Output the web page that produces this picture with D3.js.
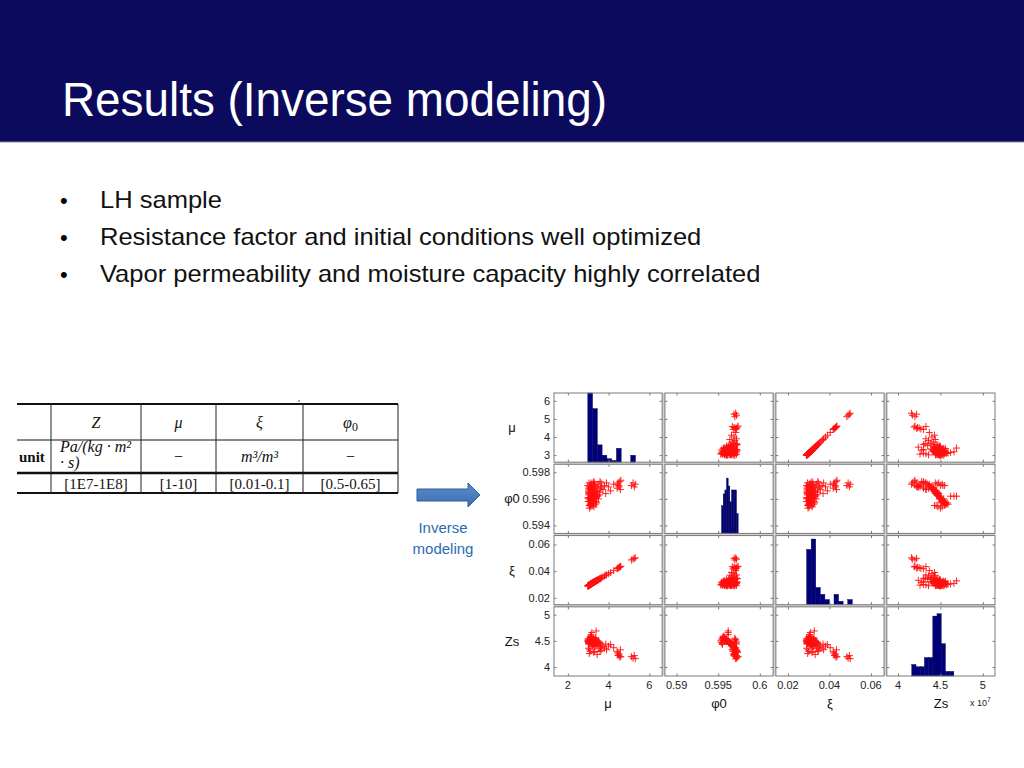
<!DOCTYPE html>
<html>
<head>
  <meta charset="UTF-8">
  <style>
body{
    margin: 0;
    background: #fff;
}
svg{
    display: block;
    font-family: "Liberation Sans", Arial, sans-serif;
}
  </style>
</head>
<body>
<svg></svg>

<script src="https://d3js.org/d3.v7.min.js"></script>

<script>

let width = 1024, height = 768;

// ---- slide text
const title = "Results (Inverse modeling)";
const bullets = [
    "LH sample",
    "Resistance factor and initial conditions well optimized",
    "Vapor permeability and moisture capacity highly correlated"
];

// ---- parameter table
const tableHead = ["Z", "μ", "ξ", "φ"];
const tableUnits = ["Pa/(kg · m²", "−", "m³/m³", "−"];
const tableRanges = ["[1E7-1E8]", "[1-10]", "[0.01-0.1]", "[0.5-0.65]"];

// ---- scatter matrix data (one entry per LH sample)
const varNames = ["μ", "φ0", "ξ", "Zs"];

const mu = [3.00,3.02,3.05,3.01,3.08,3.12,3.15,3.03,3.18,3.06,3.10,2.99,3.14,3.20,3.04,3.09,3.11,3.17,3.02,3.13,
    3.07,3.19,3.00,3.16,3.05,3.21,3.08,3.12,3.03,3.18,3.10,3.01,3.14,3.06,3.20,3.09,3.15,2.98,3.11,3.04,
    3.23,3.26,3.30,3.24,3.35,3.28,3.40,3.22,3.33,3.27,3.43,3.25,3.31,3.38,3.22,3.29,3.36,3.44,3.24,3.32,
    3.27,3.39,3.21,3.34,3.26,3.41,3.30,3.23,3.37,3.28,3.45,
    3.48,3.52,3.55,3.60,3.50,3.63,3.57,3.66,3.47,3.58,
    3.72,3.80,3.86,3.90, 4.00,4.10, 4.25,
    4.42,4.46,4.50,4.55,4.58,4.44,4.60,4.52,
    5.12,5.20,5.26,5.31];

const phi0 = [0.5958,0.5963,0.5955,0.5968,0.5960,0.5971,0.5957,0.5965,0.5962,0.5953,0.5969,0.5961,0.5966,0.5959,0.5972,0.5956,0.5964,0.5970,0.5958,0.5954,
    0.5967,0.5963,0.5960,0.5957,0.5969,0.5965,0.5961,0.5956,0.5964,0.5972,0.5959,0.5966,0.5962,0.5958,0.5968,0.5955,0.5963,0.5970,0.5960,0.5965,
    0.5962,0.5957,0.5968,0.5971,0.5960,0.5965,0.5963,0.5955,0.5970,0.5959,0.5966,0.5961,0.5972,0.5958,0.5967,0.5964,0.5956,0.5969,0.5960,0.5966,
    0.5973,0.5962,0.5958,0.5969,0.5964,0.5957,0.5961,0.5968,0.5965,0.5954,0.5963,
    0.5966,0.5971,0.5963,0.5968,0.5960,0.5972,0.5965,0.5969,0.5962,0.5973,
    0.5967,0.5970,0.5964,0.5972, 0.5969,0.5966, 0.5971,
    0.5968,0.5972,0.5970,0.5973,0.5967,0.5971,0.5974,0.5969,
    0.5970,0.5972,0.5969,0.5971];

const xi = [0.0291,0.0293,0.0296,0.0290,0.0299,0.0302,0.0305,0.0292,0.0308,0.0297,0.0300,0.0289,0.0304,0.0310,0.0294,0.0298,0.0301,0.0306,0.0292,0.0303,
    0.0297,0.0309,0.0290,0.0306,0.0295,0.0311,0.0299,0.0302,0.0293,0.0307,0.0300,0.0291,0.0304,0.0296,0.0310,0.0298,0.0305,0.0289,0.0301,0.0294,
    0.0313,0.0315,0.0319,0.0314,0.0323,0.0317,0.0327,0.0312,0.0322,0.0316,0.0330,0.0314,0.0320,0.0326,0.0312,0.0318,0.0324,0.0331,0.0313,0.0321,
    0.0316,0.0327,0.0311,0.0323,0.0315,0.0329,0.0319,0.0313,0.0325,0.0317,0.0332,
    0.0334,0.0338,0.0341,0.0345,0.0336,0.0348,0.0343,0.0351,0.0333,0.0344,
    0.0356,0.0364,0.0369,0.0372, 0.0381,0.0390, 0.0404,
    0.0418,0.0423,0.0427,0.0432,0.0434,0.0420,0.0436,0.0429,
    0.0484,0.0490,0.0496,0.0500];

// Zs in units of 1e7
const zs = [4.52,4.47,4.45,4.36,4.50,4.52,4.58,4.45,4.66,4.50,4.30,4.49,4.44,4.53,4.48,4.57,4.46,4.55,4.51,4.47,
    4.33,4.47,4.54,4.56,4.26,4.45,4.50,4.59,4.48,4.44,4.52,4.44,4.62,4.53,4.42,4.55,4.46,4.50,4.51,4.47,
    4.48,4.55,4.40,4.46,4.50,4.44,4.46,4.43,4.53,4.52,4.42,4.49,4.30,4.54,4.41,4.47,4.56,4.24,4.51,4.45,
    4.28,4.69,4.53,4.39,4.46,4.50,4.49,4.42,4.44,4.52,4.47,
    4.43,4.35,4.47,4.40,4.49,4.32,4.45,4.38,4.50,4.30,
    4.42,4.36,4.44,4.33, 4.40,4.43, 4.37,
    4.30,4.22,4.25,4.19,4.33,4.27,4.20,4.23,
    4.20,4.17,4.22,4.16];

// diagonal histograms (10 bins each)
const muHist   = [40,31,10,4,2,1,8,0,0,4];
const phi0Hist = [7,10,11,14,12,8,11,11,11,5];
const xiHist   = [32,38,10,6,3,0,6,2,0,3];
const zsHist   = [5,4,4,8,8,26,27,14,2,2];
const histRange = [[2.98, 5.32], [0.5954, 0.5974], [0.029, 0.051], [4.163, 4.658]];
const histTop = [40, 17.5, 40, 30];

// axis limits and ticks
const xDomains = [[1.32, 6.63], [0.5886, 0.6016], [0.0142, 0.0663], [3.869, 5.143]];
const yDomains = [[2.61, 6.43], [0.5934, 0.5986], [0.0148, 0.0667], [3.83, 5.15]];
const xTicks = [[2, 4, 6], [0.59, 0.595, 0.6], [0.02, 0.04, 0.06], [4, 4.5, 5]];
const yTicks = [[3, 4, 5, 6], [0.594, 0.596, 0.598], [0.02, 0.04, 0.06], [4, 4.5, 5]];

const samples = [mu, phi0, xi, zs];
const hists = [muHist, phi0Hist, xiHist, zsHist];

let svg = d3.select("svg")
    .attr("width", width)
    .attr("height", height)
    .attr("viewBox", "0 0 " + width + " " + height)

// title bar
svg.append("rect")
    .attr("x", 0).attr("y", 0)
    .attr("width", width).attr("height", 142)
    .attr("fill", "#0b0a5c")
svg.append("line")
    .attr("x1", 0).attr("x2", width)
    .attr("y1", 142).attr("y2", 142)
    .attr("stroke", "#8a8aa8")
    .attr("stroke-width", 1)

svg.append("text")
    .attr("x", 62).attr("y", 116)
    .attr("fill", "#fff")
    .attr("font-size", 48)
    .attr("textLength", 545)
    .attr("lengthAdjust", "spacingAndGlyphs")
    .text(title)

// bullets (the slide font runs a bit wider than Liberation Sans)
let bulletG = svg.append("g")
    .selectAll("g")
    .data(bullets)
    .enter()
    .append("g")
    .attr("transform", (d, i) => "translate(0," + (208 + i * 37) + ")")
bulletG.append("text")
    .attr("x", 60)
    .attr("font-size", 22)
    .text("•")
bulletG.append("text")
    .attr("transform", "translate(100,0) scale(1.11,1)")
    .attr("font-size", 23)
    .attr("fill", "#111")
    .text(d => d)

// ---- table
let colEdges = [51, 141, 216, 303, 398];
let tableG = svg.append("g")
    .attr("font-family", "'Liberation Serif', 'Times New Roman', serif")
    .attr("fill", "#111")

let hLines = [[404, 2], [440, 1], [473, 2.5], [493, 2]];
tableG.selectAll(".hl")
    .data(hLines)
    .enter()
    .append("line")
    .attr("x1", 17).attr("x2", 398)
    .attr("y1", d => d[0]).attr("y2", d => d[0])
    .attr("stroke", "#111")
    .attr("stroke-width", d => d[1])

tableG.selectAll(".vl")
    .data(colEdges)
    .enter()
    .append("line")
    .attr("x1", d => d).attr("x2", d => d)
    .attr("y1", 404).attr("y2", 493)
    .attr("stroke", "#222")
    .attr("stroke-width", 1)

let colMid = d3.range(4).map(i => (colEdges[i] + colEdges[i + 1]) / 2);

let headText = tableG.selectAll(".th")
    .data(tableHead)
    .enter()
    .append("text")
    .attr("x", (d, i) => colMid[i])
    .attr("y", 428)
    .attr("text-anchor", "middle")
    .attr("font-style", "italic")
    .attr("font-size", 16)
    .text(d => d)
headText.filter((d, i) => i == 3)
    .append("tspan")
    .attr("font-style", "normal")
    .attr("font-size", 12)
    .attr("dy", 3)
    .text("0")

tableG.append("text")
    .attr("x", 19).attr("y", 462)
    .attr("font-weight", "bold")
    .attr("font-size", 15)
    .text("unit")

tableG.selectAll(".tu")
    .data(tableUnits)
    .enter()
    .append("text")
    .attr("x", (d, i) => i == 0 ? 60 : colMid[i])
    .attr("y", (d, i) => i == 0 ? 452 : 462)
    .attr("text-anchor", (d, i) => i == 0 ? "start" : "middle")
    .attr("font-style", "italic")
    .attr("font-size", 16)
    .text(d => d)
tableG.append("text")
    .attr("x", 60).attr("y", 468)
    .attr("font-style", "italic")
    .attr("font-size", 16)
    .text("· s)")

tableG.selectAll(".tr")
    .data(tableRanges)
    .enter()
    .append("text")
    .attr("x", (d, i) => colMid[i])
    .attr("y", 489)
    .attr("text-anchor", "middle")
    .attr("font-size", 15)
    .text(d => d)

tableG.append("circle")
    .attr("cx", 299).attr("cy", 401).attr("r", 0.8)
    .attr("fill", "#333")

// ---- arrow
let grad = svg.append("defs").append("linearGradient")
    .attr("id", "arrowGrad")
    .attr("x1", 0).attr("y1", 0).attr("x2", 0).attr("y2", 1)
grad.append("stop").attr("offset", "0%").attr("stop-color", "#5a8fd0")
grad.append("stop").attr("offset", "100%").attr("stop-color", "#3b6cae")

svg.append("path")
    .attr("d", "M417,489 L468,489 L468,483 L480,495 L468,507 L468,501 L417,501 Z")
    .attr("fill", "url(#arrowGrad)")
    .attr("stroke", "#2f5f97")
    .attr("stroke-width", 1)

svg.append("text")
    .attr("x", 443)
    .attr("text-anchor", "middle")
    .attr("fill", "#2a6cb3")
    .attr("font-size", 15)
    .selectAll("tspan")
    .data(["Inverse", "modeling"])
    .enter()
    .append("tspan")
    .attr("x", 443)
    .attr("y", (d, i) => 533 + i * 21)
    .text(d => d)

// ---- scatter plot matrix
let colBand = d3.scaleBand()
    .domain(d3.range(4))
    .range([554, 995])
    .paddingInner(0.025)
let rowBand = d3.scaleBand()
    .domain(d3.range(4))
    .range([393, 676])
    .paddingInner(0.03)
let bw = colBand.bandwidth(), bh = rowBand.bandwidth();

let fmt = d => String(+d.toFixed(6));

let matrix = svg.append("g")

matrix.append("rect")
    .attr("x", colBand(0)).attr("y", rowBand(0))
    .attr("width", colBand(3) + bw - colBand(0))
    .attr("height", rowBand(3) + bh - rowBand(0))
    .attr("fill", "#d2d2d2")

for (let i = 0; i < 4; i++) {
    for (let j = 0; j < 4; j++) {
        let x0 = colBand(j), y0 = rowBand(i);
        let xs = d3.scaleLinear().domain(xDomains[j]).range([x0, x0 + bw]);
        let ys = d3.scaleLinear().domain(yDomains[i]).range([y0 + bh, y0]);

        let panel = matrix.append("g")

        panel.append("rect")
            .attr("x", x0).attr("y", y0)
            .attr("width", bw).attr("height", bh)
            .attr("fill", "#fff")

        if (i == j) {
            let lo = histRange[i][0], hi = histRange[i][1];
            let step = (hi - lo) / hists[i].length;
            let hy = d3.scaleLinear().domain([0, histTop[i]]).range([y0 + bh, y0]);
            panel.selectAll("rect.bar")
                .data(hists[i])
                .enter()
                .append("rect")
                .attr("class", "bar")
                .attr("x", (d, k) => xs(lo + k * step))
                .attr("width", (d, k) => xs(lo + (k + 1) * step) - xs(lo + k * step))
                .attr("y", d => hy(d))
                .attr("height", d => hy(0) - hy(d))
                .attr("fill", "#00007c")
                .attr("stroke", "#00004a")
                .attr("stroke-width", 0.4)
        } else {
            panel.selectAll("path.pt")
                .data(d3.range(mu.length))
                .enter()
                .append("path")
                .attr("class", "pt")
                .attr("d", k => {
                    let px = xs(samples[j][k]), py = ys(samples[i][k]);
                    return "M" + (px - 3.5) + "," + py + "h7M" + px + "," + (py - 3.5) + "v7";
                })
                .attr("fill", "none")
                .attr("stroke", "#ff1010")
                .attr("stroke-width", 0.9)
        }

        // inward tick marks on every side
        let axes = [
            [d3.axisBottom(xs).tickValues(xTicks[j]), "translate(0," + (y0 + bh) + ")"],
            [d3.axisTop(xs).tickValues(xTicks[j]), "translate(0," + y0 + ")"],
            [d3.axisLeft(ys).tickValues(yTicks[i]), "translate(" + x0 + ",0)"],
            [d3.axisRight(ys).tickValues(yTicks[i]), "translate(" + (x0 + bw) + ",0)"]
        ];
        axes.forEach(a => {
            let g = panel.append("g")
                .attr("transform", a[1])
                .call(a[0].tickSize(-2.5).tickFormat(""))
            g.select(".domain").remove();
            g.selectAll("line").attr("stroke", "#777");
        })

        panel.append("rect")
            .attr("x", x0).attr("y", y0)
            .attr("width", bw).attr("height", bh)
            .attr("fill", "none")
            .attr("stroke", "#7a7a7a")
            .attr("stroke-width", 1)

        // outer labels
        if (j == 0) {
            panel.selectAll("text.yt")
                .data(yTicks[i])
                .enter()
                .append("text")
                .attr("x", x0 - 4)
                .attr("y", d => ys(d))
                .attr("dy", "0.35em")
                .attr("text-anchor", "end")
                .attr("font-size", 11)
                .attr("fill", "#222")
                .text(fmt)
            panel.append("text")
                .attr("x", 512)
                .attr("y", y0 + bh / 2)
                .attr("dy", "0.35em")
                .attr("text-anchor", "middle")
                .attr("font-size", 13)
                .attr("fill", "#111")
                .text(varNames[i])
        }
        if (i == 3) {
            panel.selectAll("text.xt")
                .data(xTicks[j])
                .enter()
                .append("text")
                .attr("x", d => xs(d))
                .attr("y", 689)
                .attr("text-anchor", "middle")
                .attr("font-size", 11)
                .attr("fill", "#222")
                .text(fmt)
            panel.append("text")
                .attr("x", x0 + bw / 2)
                .attr("y", 708)
                .attr("text-anchor", "middle")
                .attr("font-size", 13)
                .attr("fill", "#111")
                .text(varNames[j])
        }
    }
}

// exponent note for Zs
let expo = matrix.append("text")
    .attr("x", 970).attr("y", 706)
    .attr("font-size", 9)
    .attr("fill", "#222")
    .text("x 10")
expo.append("tspan")
    .attr("font-size", 6.5)
    .attr("dy", -4)
    .text("7")

</script>
</body>
</html>
